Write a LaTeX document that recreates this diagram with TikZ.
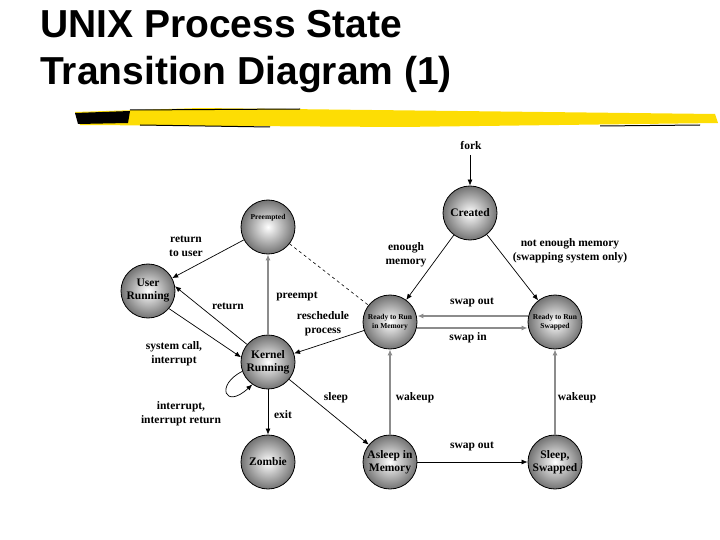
\documentclass[tikz,border=0pt]{standalone}
\usepackage{fontspec}
\setmainfont{Liberation Serif}
\newfontfamily\titlefont{Liberation Sans}
\usetikzlibrary{arrows.meta}
\begin{document}
\begin{tikzpicture}[x=1pt,y=-1pt,
  st/.style={circle,draw=black,line width=0.8pt,minimum size=54pt,inner sep=0pt,align=center,
    inner color=white,outer color=black!55,font=\bfseries\fontsize{11.5}{13}\selectfont},
  sts/.style={st,font=\bfseries\fontsize{7.5}{9}\selectfont},
  lab/.style={font=\bfseries\fontsize{11.5}{14}\selectfont,align=center},
  ar/.style={-{Latex[length=6pt,width=5pt]},line width=0.7pt},
  gar/.style={ar,draw=black!45,line width=1.6pt,-{Latex[length=6pt,width=5pt,fill=black]}}]
\useasboundingbox (0,0) rectangle (720,540);
% title
\node[anchor=north west,font=\titlefont\bfseries\fontsize{39}{47}\selectfont,align=left,inner sep=0pt] (title) at (40,10) {UNIX Process State\\Transition Diagram (1)};
\fill[yellow!80!orange] (75,112) -- (200,108) -- (715,114) -- (718,123) -- (400,127) -- (80,125) -- cycle;
\fill[black] (75,113) -- (130,111) -- (128,123) -- (78,124) -- cycle;
\draw[black,line width=1pt] (130,110) -- (300,109) (140,125) -- (270,127) (600,126) -- (700,125);
% nodes
\node[st] (cr) at (470,213) {Created};
\node[sts] (pr) at (268,227) {Preempted\\[12pt]};
\node[st] (ur) at (148,291) {User\\Running};
\node[st] (kr) at (268,362) {Kernel\\Running};
\node[sts] (rm) at (390,322) {Ready to Run\\in Memory};
\node[sts] (rs) at (555,322) {Ready to Run\\Swapped};
\node[st] (zo) at (268,462) {Zombie};
\node[st] (as) at (390,462) {Asleep in\\Memory};
\node[st] (ss) at (555,462) {Sleep,\\Swapped};
\coordinate (fk) at (470,155);
\node[lab] (lfork) at (471,146) {fork};
% edges
\draw[ar] (fk) -- (cr);
\draw[ar] (cr) -- (rm);
\draw[ar] (cr) -- (rs);
\draw[gar] ([yshift=-6pt]rm.east) -- ([yshift=-6pt]rs.west);
\draw[gar] ([yshift=6pt]rs.west) -- ([yshift=6pt]rm.east);
\draw[dashed,line width=0.6pt] (pr) -- (rm);
\draw[gar] (kr) -- (pr);
\draw[ar] (rm) -- (kr);
\draw[ar] (kr.140) -- (ur.10);
\draw[ar] (ur.-40) -- (kr.170);
\draw[ar] (pr) -- (ur);
\draw[ar] (kr.200) .. controls (215,385) and (225,410) .. (kr.235);
\draw[ar] (kr) -- (zo);
\draw[ar] (kr) -- (as);
\draw[gar] (as) -- (rm);
\draw[ar] (as) -- (ss);
\draw[gar] (ss) -- (rs);
% labels
\node[lab] (l1) at (186,246) {return\\to user};
\node[lab] (l2) at (406,255) {enough\\memory};
\node[lab] (l3) at (570,251) {not enough memory\\(swapping system only)};
\node[lab] (l4) at (297,296) {preempt};
\node[lab] (l5) at (228,306) {return};
\node[lab] (l6) at (323,324) {reschedule\\process};
\node[lab] (l7) at (472,302) {swap out};
\node[lab] (l8) at (468,338) {swap in};
\node[lab] (l9) at (174,354) {system call,\\interrupt};
\node[lab] (l10) at (336,398) {sleep};
\node[lab] (l11) at (415,398) {wakeup};
\node[lab] (l12) at (577,398) {wakeup};
\node[lab] (l13) at (181,414) {interrupt,\\interrupt return};
\node[lab] (l14) at (283,415) {exit};
\node[lab] (l15) at (472,446) {swap out};
\end{tikzpicture}
\end{document}
